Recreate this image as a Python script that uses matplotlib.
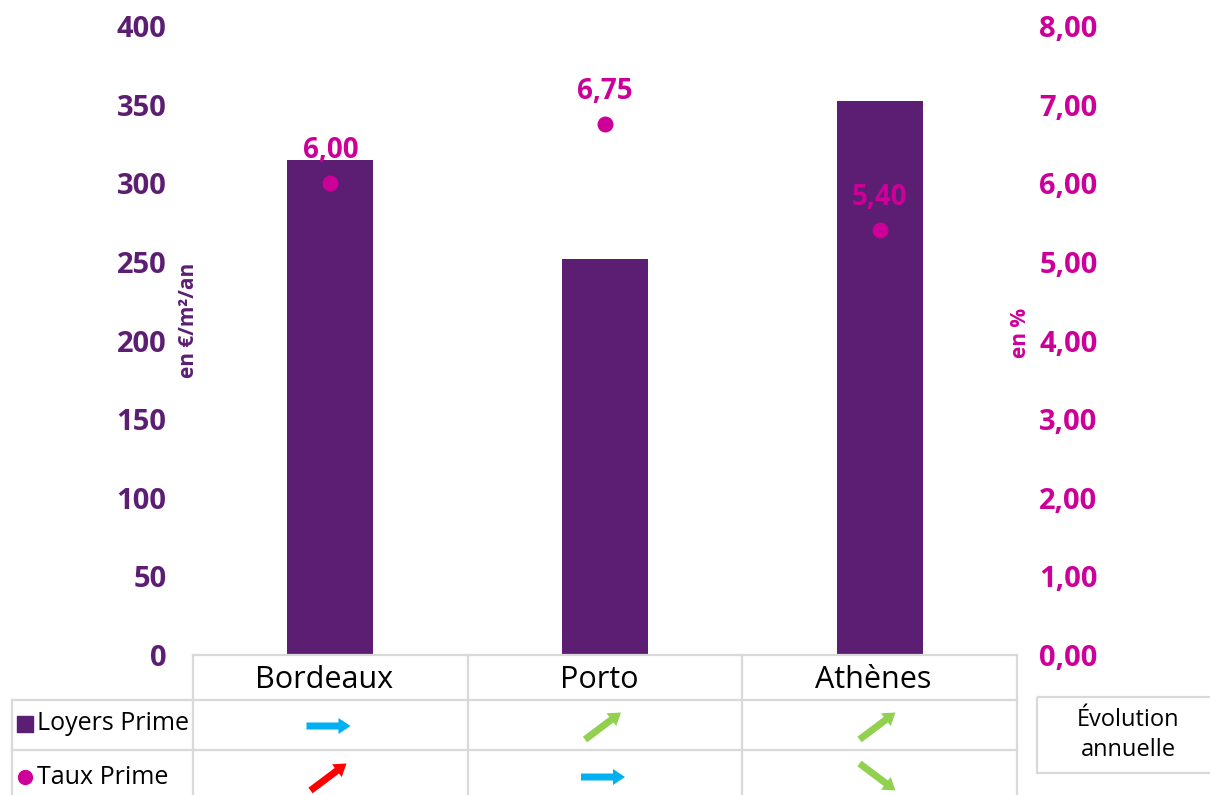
import matplotlib.pyplot as plt
from matplotlib.patches import FancyArrow

plt.rcParams['font.family'] = ['Open Sans', 'DejaVu Sans']

villes = ['Bordeaux', 'Porto', 'Athènes']
loyers = [315, 252, 352]          # en €/m²/an
taux = [6.00, 6.75, 5.40]         # en %
evol_loyers = ['stable', 'hausse', 'hausse']
evol_taux = ['hausse', 'stable', 'baisse']

violet = '#5B1E73'
magenta = '#CC0099'
couleurs = {'stable': '#00B0F0', 'hausse': '#92D050', 'baisse': '#92D050'}
gris = '#D9D9D9'

W, H = 1210, 795
fig = plt.figure(figsize=(W / 100, H / 100), dpi=100)

# axe principal : loyers (barres)
ax = fig.add_axes([193 / W, 1 - 655 / H, 824 / W, 629 / H])
x = range(len(villes))
ax.bar(x, loyers, width=0.313, color=violet, zorder=2)
ax.set_xlim(-0.5, len(villes) - 0.5)
ax.set_ylim(0, 400)
ax.set_yticks(range(0, 401, 50))
ax.set_xticks([])
ax.tick_params(axis='y', length=0, pad=19, labelsize=21, labelcolor=violet)
for lab in ax.get_yticklabels():
    lab.set_fontweight('bold')
for s in ax.spines.values():
    s.set_visible(False)

# axe secondaire : taux (points)
ax2 = ax.twinx()
ax2.scatter(x, taux, s=110, color=magenta, zorder=3)
ax2.set_ylim(0, 8)
ax2.set_yticks([i for i in range(0, 9)])
ax2.set_yticklabels([f'{i},00' for i in range(0, 9)])
ax2.tick_params(axis='y', length=0, pad=16, labelsize=21, labelcolor=magenta)
for lab in ax2.get_yticklabels():
    lab.set_fontweight('bold')
for s in ax2.spines.values():
    s.set_visible(False)
for xi, t in zip(x, taux):
    ax2.annotate(f'{t:.2f}'.replace('.', ','), (xi, t), xytext=(0, 13),
                 textcoords='offset points', ha='center', va='bottom',
                 color=magenta, fontsize=20, fontweight='bold')

# tableau sous le graphique (coordonnées en pixels)
tb = fig.add_axes([0, 0, 1, 1], zorder=5)
tb.set_xlim(0, W)
tb.set_ylim(H, 0)
tb.axis('off')
tb.patch.set_alpha(0)

tb.text(188, 320, 'en €/m²/an', rotation=90, ha='center', va='center',
        color=violet, fontsize=15, fontweight='bold')
tb.text(1020, 333, 'en %', rotation=90, ha='center', va='center',
        color=magenta, fontsize=15, fontweight='bold')

cols = [193, 468, 742, 1017]
lw = 1.6
tb.plot([193, 1017], [655, 655], color=gris, lw=lw)
for y in (700, 750):
    tb.plot([12, 1017], [y, y], color=gris, lw=lw)
tb.plot([12, 12], [700, H], color=gris, lw=lw)
for c in cols:
    tb.plot([c, c], [655, H], color=gris, lw=lw)

for i, v in enumerate(villes):
    cx = (cols[i] + cols[i + 1]) / 2
    tb.text(cx - 6, 680, v, ha='center', va='center', fontsize=22, color='black')

tb.scatter([25], [724], marker='s', s=120, color=violet)
tb.text(37, 724, 'Loyers Prime', ha='left', va='center', fontsize=18)
tb.scatter([25], [777], marker='o', s=100, color=magenta)
tb.text(37, 777, 'Taux Prime', ha='left', va='center', fontsize=18)


def fleche(cx, cy, sens, couleur):
    if sens == 'stable':
        dx, dy = 44, 0
    elif sens == 'hausse':
        dx, dy = 36, -27
    else:
        dx, dy = 36, 27
    tb.add_patch(FancyArrow(cx - dx / 2, cy - dy / 2, dx, dy, width=7,
                            head_width=16, head_length=12,
                            length_includes_head=True, color=couleur, lw=0))


for i in range(len(villes)):
    cx = (cols[i] + cols[i + 1]) / 2 - 2
    fleche(cx, 726, evol_loyers[i], couleurs[evol_loyers[i]])
    c_t = '#FF0000' if (i == 0) else couleurs[evol_taux[i]]
    fleche(cx, 777, evol_taux[i], c_t)

tb.add_patch(plt.Rectangle((1037, 697), 180, 76, fill=False, edgecolor=gris, lw=lw))
tb.text(1128, 735, 'Évolution\nannuelle', ha='center', va='center', fontsize=17,
        linespacing=1.3)

fig.savefig('out.png', dpi=100)
